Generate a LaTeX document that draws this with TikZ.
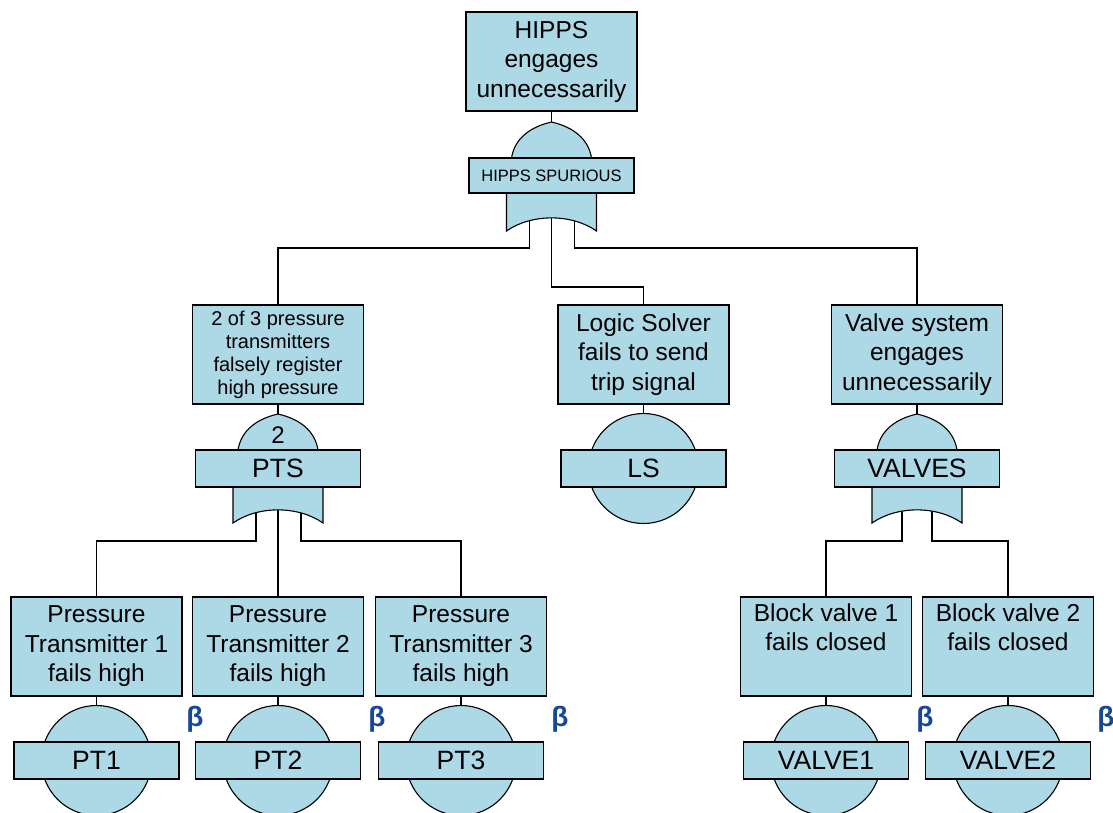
\documentclass[tikz,border=0pt]{standalone}
\usepackage{fontspec}
\setmainfont{Liberation Sans}
\definecolor{evfill}{RGB}{173,216,230}
\definecolor{betablue}{RGB}{23,72,150}
\tikzset{
  eventbox/.style={draw, fill=evfill, minimum width=171pt, minimum height=99pt,
    inner sep=0pt, align=center, font=\fontsize{24.5}{29.5}\selectfont},
  smallbox/.style={eventbox, font=\fontsize{20}{23}\selectfont},
  gatelabel/.style={draw, fill=evfill, minimum width=165pt, minimum height=37pt,
    inner sep=0pt, font=\fontsize{26.5}{30}\selectfont},
  voteno/.style={inner sep=0pt, font=\fontsize{24}{24}\selectfont},
  betamark/.style={inner sep=0pt, text=betablue, font=\fontsize{28}{28}\selectfont\bfseries},
  wire/.style={draw, line width=1.1pt},
  orgate/.pic={
    \path[draw, fill=evfill, line width=1.1pt]
      (-45,109) -- (-45,50) -- (-40,36)
      .. controls (-37,17) and (-22,5) .. (0,0)
      .. controls (22,5) and (37,17) .. (40,36)
      -- (45,50) -- (45,109)
      .. controls (20,91.5) and (-20,91.5) .. (-45,109) -- cycle;
  },
}
\begin{document}
\begin{tikzpicture}[x=1pt, y=-1pt, line width=1.1pt]
\useasboundingbox (0,0) rectangle (1113,812);
\clip (0,0) rectangle (1113,812);

% ---- event boxes ----
\node[eventbox] (top) at (551.5,61.5) {HIPPS\\engages\\unnecessarily};
\node[smallbox] (ptsEvent) at (278,354.5) {2 of 3 pressure\\transmitters\\falsely register\\high pressure};
\node[eventbox] (lsEvent) at (643.5,354.5) {Logic Solver\\fails to send\\trip signal};
\node[eventbox] (valvesEvent) at (917,354.5) {Valve system\\engages\\unnecessarily};
\node[eventbox] (pt1Event) at (96.5,646.5) {Pressure\\Transmitter 1\\fails high};
\node[eventbox] (pt2Event) at (278,646.5) {Pressure\\Transmitter 2\\fails high};
\node[eventbox] (pt3Event) at (461,646.5) {Pressure\\Transmitter 3\\fails high};
\node[eventbox] (v1Event) at (826,646.5) {Block valve 1\\fails closed\\\strut};
\node[eventbox] (v2Event) at (1008,646.5) {Block valve 2\\fails closed\\\strut};

% ---- gate inputs and outputs ----
\coordinate (hippsApex) at (551.5,122);
\coordinate (ptsApex) at (278,414);
\coordinate (lsApex) at (643.5,413.5);
\coordinate (valvesApex) at (917,414);
\coordinate (pt1Apex) at (96.5,705.5);
\coordinate (pt2Apex) at (278,705.5);
\coordinate (pt3Apex) at (461,705.5);
\coordinate (v1Apex) at (826,705.5);
\coordinate (v2Apex) at (1008,705.5);

\coordinate (hippsOutL) at (529.5,212);
\coordinate (hippsOutC) at (551.5,212);
\coordinate (hippsOutR) at (574.5,212);
\coordinate (ptsOutL) at (256,504);
\coordinate (ptsOutC) at (278,504);
\coordinate (ptsOutR) at (301,504);
\coordinate (valvesOutL) at (902,504);
\coordinate (valvesOutR) at (932,504);

% ---- connectors ----
\draw[wire] (top) -- (hippsApex);
\draw[wire] (ptsEvent) -- (ptsApex);
\draw[wire] (lsEvent) -- (lsApex);
\draw[wire] (valvesEvent) -- (valvesApex);
\draw[wire] (pt1Event) -- (pt1Apex);
\draw[wire] (pt2Event) -- (pt2Apex);
\draw[wire] (pt3Event) -- (pt3Apex);
\draw[wire] (v1Event) -- (v1Apex);
\draw[wire] (v2Event) -- (v2Apex);

\draw[wire] (hippsOutL) -- ++(0,36) -| (ptsEvent.north);
\draw[wire] (hippsOutC) -- ++(0,75) -| (lsEvent.north);
\draw[wire] (hippsOutR) -- ++(0,36) -| (valvesEvent.north);
\draw[wire] (ptsOutL) -- ++(0,37) -| (pt1Event.north);
\draw[wire] (ptsOutC) -- (pt2Event.north);
\draw[wire] (ptsOutR) -- ++(0,37) -| (pt3Event.north);
\draw[wire] (valvesOutL) -- ++(0,37) -| (v1Event.north);
\draw[wire] (valvesOutR) -- ++(0,37) -| (v2Event.north);

% ---- OR gates ----
\pic at (hippsApex) {orgate};
\node[gatelabel, font=\fontsize{16.5}{20}\selectfont, minimum height=35pt] (hippsGate) at (551.5,175.5) {HIPPS SPURIOUS};

\pic at (ptsApex) {orgate};
\node[voteno] (ptsVote) at (278,435) {2};
\node[gatelabel] (ptsGate) at (278,468.5) {PTS};

\pic at (valvesApex) {orgate};
\node[gatelabel] (valvesGate) at (917,468.5) {VALVES};

% ---- basic events ----
\draw[fill=evfill] (643.5,468.5) circle (55);
\node[gatelabel] (lsGate) at (643.5,468.5) {LS};

\draw[fill=evfill] (96.5,760.5) circle (55);
\node[gatelabel] (pt1Gate) at (96.5,760.5) {PT1};
\draw[fill=evfill] (278,760.5) circle (55);
\node[gatelabel] (pt2Gate) at (278,760.5) {PT2};
\draw[fill=evfill] (461,760.5) circle (55);
\node[gatelabel] (pt3Gate) at (461,760.5) {PT3};
\draw[fill=evfill] (826,760.5) circle (55);
\node[gatelabel] (v1Gate) at (826,760.5) {VALVE1};
\draw[fill=evfill] (1008,760.5) circle (55);
\node[gatelabel] (v2Gate) at (1008,760.5) {VALVE2};

% ---- common cause markers ----
\node[betamark] (beta1) at (195,719.5) {β};
\node[betamark] (beta2) at (377,719.5) {β};
\node[betamark] (beta3) at (560,719.5) {β};
\node[betamark] (beta4) at (925,719.5) {β};
\node[betamark] (beta5) at (1106,719.5) {β};
\end{tikzpicture}
\end{document}
